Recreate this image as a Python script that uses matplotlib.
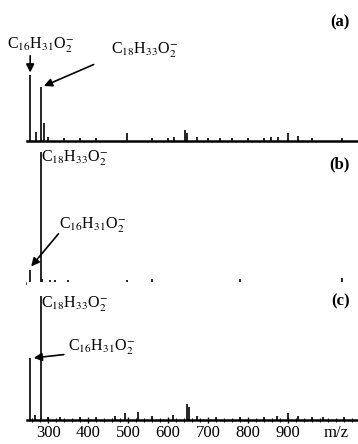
import matplotlib
matplotlib.use("Agg")
import matplotlib.pyplot as plt
from matplotlib.ticker import MultipleLocator

plt.rcParams["font.family"] = ["Liberation Serif", "DejaVu Serif"]
plt.rcParams["mathtext.fontset"] = "stix"

# peak positions (m/z) and relative intensities for each spectrum
mz_a = [255, 270, 281, 290, 300, 340, 380, 420, 497, 560, 600, 614, 642, 647,
        672, 700, 730, 760, 800, 840, 857, 875, 900, 925, 960, 1035]
int_a = [50, 7, 41, 14, 3, 2, 2, 2, 6, 2, 2, 3, 8, 6,
         3, 2, 2, 2, 2, 2, 3, 3, 6, 4, 2, 2]

mz_b = [255, 281, 285, 305, 317, 350, 497, 560, 660, 700, 780, 880, 1035]
int_b = [10, 100, 3, 2, 2, 2, 2, 3, 1, 1, 3, 1, 4]

mz_c = [255, 267, 281, 300, 330, 380, 420, 467, 492, 525, 560, 612, 647, 652,
        672, 720, 780, 840, 872, 900, 925, 960, 987, 1040]
int_c = [47, 4, 94, 2, 2, 2, 2, 3, 5, 6, 3, 4, 12, 10,
         3, 2, 2, 2, 3, 5, 3, 2, 2, 2]

ticks = [300, 400, 500, 600, 700, 800, 900]
c16 = r"C$_{16}$H$_{31}$O$_{2}^{-}$"
c18 = r"C$_{18}$H$_{33}$O$_{2}^{-}$"

fig = plt.figure(figsize=(3.58, 4.44), dpi=100)
W, H = 358.0, 444.0
bottoms = [303, 161, 24]
axes = [fig.add_axes([27 / W, b / H, 331 / W, 138 / H]) for b in bottoms]

for ax, mz, inten, tag in zip(axes, [mz_a, mz_b, mz_c], [int_a, int_b, int_c],
                              ["(a)", "(b)", "(c)"]):
    ax.vlines(mz, 0, inten, color="black", lw=1.2)
    ax.set_xlim(247, 1075)
    ax.set_ylim(0, 105)
    for s in ["top", "right", "left"]:
        ax.spines[s].set_visible(False)
    ax.spines["bottom"].set_linewidth(1.8)
    ax.set_yticks([])
    ax.text(1055, 90, tag, ha="right", va="center", fontsize=12,
            fontweight="bold")

arrow = dict(arrowstyle="-|>", color="black", lw=1.2, mutation_scale=12)
fs = 11.5

# panel (a)
ax = axes[0]
ax.set_xticks([])
ax.text(280, 73, c16, ha="center", va="center", fontsize=fs)
ax.annotate("", xy=(255, 50), xytext=(255, 67), arrowprops=arrow)
ax.text(540, 69, c18, ha="center", va="center", fontsize=fs)
ax.annotate("", xy=(283, 41), xytext=(420, 59), arrowprops=arrow)

# panel (b)
ax = axes[1]
ax.set_xticks([])
ax.text(283, 95, c18, ha="left", va="center", fontsize=fs)
ax.text(326, 44, c16, ha="left", va="center", fontsize=fs)
ax.annotate("", xy=(253, 11), xytext=(330, 39), arrowprops=arrow)

# panel (c)
ax = axes[2]
ax.text(283, 88, c18, ha="left", va="center", fontsize=fs)
ax.text(350, 55, c16, ha="left", va="center", fontsize=fs)
ax.annotate("", xy=(257, 47), xytext=(346, 50), arrowprops=arrow)
ax.set_xticks(ticks)
ax.set_xticklabels([str(t) for t in ticks], fontsize=12)
ax.xaxis.set_minor_locator(MultipleLocator(20))
ax.tick_params(axis="x", which="major", direction="inout", length=5,
               width=1, pad=1)
ax.tick_params(axis="x", which="minor", direction="inout", length=3,
               width=0.8)
ax.text(1020, -4, "m/z", ha="center", va="top", fontsize=12,
        transform=ax.transData)

fig.savefig("out.png", dpi=100)
